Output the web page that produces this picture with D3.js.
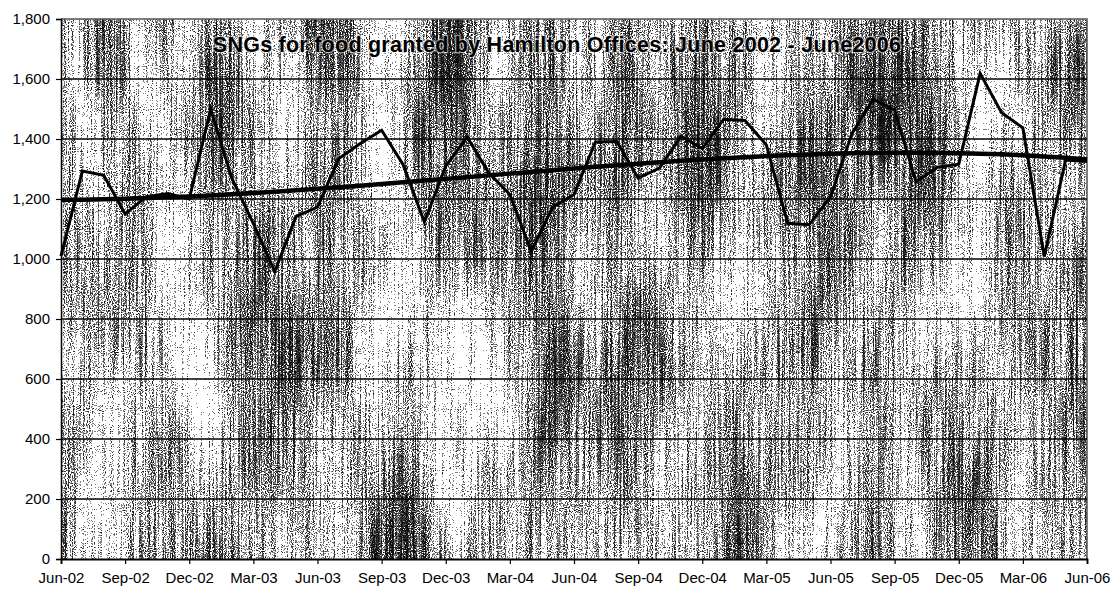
<!DOCTYPE html>
<html>
<head>
<meta charset="utf-8">
<script src="https://cdn.jsdelivr.net/npm/d3@7"></script>
<style>
  html, body { margin: 0; padding: 0; background: #fff; }
  svg { display: block; }
  text { font-family: "Liberation Sans", Arial, sans-serif; fill: #000; }
</style>
</head>
<body>
<svg id="chart" width="1120" height="590"></svg>
<script>
// Monthly categories, June 2002 to June 2006
const months = [
  "Jun-02","Jul-02","Aug-02","Sep-02","Oct-02","Nov-02","Dec-02","Jan-03","Feb-03",
  "Mar-03","Apr-03","May-03","Jun-03","Jul-03","Aug-03","Sep-03","Oct-03","Nov-03",
  "Dec-03","Jan-04","Feb-04","Mar-04","Apr-04","May-04","Jun-04","Jul-04","Aug-04",
  "Sep-04","Oct-04","Nov-04","Dec-04","Jan-05","Feb-05","Mar-05","Apr-05","May-05",
  "Jun-05","Jul-05","Aug-05","Sep-05","Oct-05","Nov-05","Dec-05","Jan-06","Feb-06",
  "Mar-06","Apr-06","May-06","Jun-06"
];

// SNGs for food granted each month
const grants = [
  1010, 1293, 1279, 1150, 1208, 1218, 1200, 1500, 1268,
  1118,  958, 1142, 1173, 1335, 1385, 1429, 1315, 1123,
  1310, 1407, 1288, 1215, 1025, 1173, 1215, 1390, 1392,
  1270, 1303, 1409, 1368, 1466, 1462, 1380, 1119, 1114,
  1207, 1418, 1533, 1496, 1257, 1306, 1316, 1619, 1488,
  1437, 1008, 1330, 1325
];

// Labelled months on the category axis (every third month)
const xTickLabels = ["Jun-02","Sep-02","Dec-02","Mar-03","Jun-03","Sep-03","Dec-03",
  "Mar-04","Jun-04","Sep-04","Dec-04","Mar-05","Jun-05","Sep-05","Dec-05","Mar-06","Jun-06"];
const yTickValues = [0, 200, 400, 600, 800, 1000, 1200, 1400, 1600, 1800];

const titleText = "SNGs for food granted by Hamilton Offices: June 2002 - June2006";

// Least-squares polynomial trend (cubic) over the month index
function polyFit(ys, degree) {
  const n = degree + 1;
  const A = Array.from({length: n}, () => new Array(n + 1).fill(0));
  ys.forEach((v, t) => {
    for (let r = 0; r < n; r++) {
      for (let c = 0; c < n; c++) A[r][c] += Math.pow(t, r + c);
      A[r][n] += v * Math.pow(t, r);
    }
  });
  for (let i = 0; i < n; i++) {
    let p = i;
    for (let r = i + 1; r < n; r++) if (Math.abs(A[r][i]) > Math.abs(A[p][i])) p = r;
    [A[i], A[p]] = [A[p], A[i]];
    for (let r = 0; r < n; r++) {
      if (r === i) continue;
      const k = A[r][i] / A[i][i];
      for (let c = i; c <= n; c++) A[r][c] -= k * A[i][c];
    }
  }
  const coef = A.map((row, i) => row[n] / row[i]);
  return t => coef.reduce((s, a, k) => s + a * Math.pow(t, k), 0);
}
const trend = polyFit(grants, 3);

const svg = d3.select("#chart");
const plotL = 61, plotR = 1087, plotT = 19, plotB = 559;

const x = d3.scalePoint().domain(months).range([plotL, plotR]);
const y = d3.scaleLinear().domain([0, 1800]).range([plotB, plotT]);

// Speckled, vertically streaked fill of the plot area
const defs = svg.append("defs");
const f = defs.append("filter").attr("id", "grain")
  .attr("filterUnits", "userSpaceOnUse")
  .attr("x", plotL).attr("y", plotT).attr("width", plotR - plotL).attr("height", plotB - plotT)
  .attr("color-interpolation-filters", "sRGB");
const toGrey = "1 0 0 0 0  1 0 0 0 0  1 0 0 0 0  0 0 0 0 1";
function noise(freq, oct, seed, name) {
  f.append("feTurbulence").attr("type", "fractalNoise").attr("baseFrequency", freq)
    .attr("numOctaves", oct).attr("seed", seed).attr("result", name + "Raw");
  f.append("feColorMatrix").attr("in", name + "Raw").attr("type", "matrix")
    .attr("values", toGrey).attr("result", name);
}
noise("0.95", 1, 3, "fine");
noise("0.55 0.01", 2, 9, "streak");
noise("0.014 0.004", 2, 21, "blot");
f.append("feComposite").attr("in", "fine").attr("in2", "streak").attr("operator", "arithmetic")
  .attr("k2", 0.6).attr("k3", 0.4).attr("result", "fs");
f.append("feComposite").attr("in", "fs").attr("in2", "blot").attr("operator", "arithmetic")
  .attr("k2", 0.8).attr("k3", 0.3).attr("k4", -0.05).attr("result", "mix");
f.append("feColorMatrix").attr("in", "mix").attr("type", "matrix")
  .attr("values", "0 0 0 0 0  0 0 0 0 0  0 0 0 0 0  1 0 0 0 0").attr("result", "alpha");
const ct = f.append("feComponentTransfer").attr("in", "alpha").attr("result", "boost");
ct.append("feFuncA").attr("type", "linear").attr("slope", 4).attr("intercept", -1.62);
const ct2 = f.append("feComponentTransfer").attr("in", "boost");
ct2.append("feFuncA").attr("type", "discrete").attr("tableValues", "0 0 0.5 0.8 0.95");

svg.append("rect")
  .attr("x", plotL).attr("y", plotT).attr("width", plotR - plotL).attr("height", plotB - plotT)
  .attr("fill", "#fff");
svg.append("rect")
  .attr("x", plotL).attr("y", plotT).attr("width", plotR - plotL).attr("height", plotB - plotT)
  .attr("fill", "#000").attr("filter", "url(#grain)");

// Plot border (top and right)
svg.append("path")
  .attr("d", `M${plotL},${plotT}H${plotR}V${plotB}`)
  .attr("fill", "none").attr("stroke", "#555").attr("stroke-width", 1.5);

// Horizontal gridlines
svg.append("g").selectAll("line")
  .data(yTickValues.filter(v => v > 0 && v < 1800))
  .join("line")
  .attr("x1", plotL).attr("x2", plotR)
  .attr("y1", d => y(d)).attr("y2", d => y(d))
  .attr("stroke", "#000").attr("stroke-width", 1.6);

// Value axis
const yAxis = svg.append("g").attr("transform", `translate(${plotL},0)`)
  .call(d3.axisLeft(y).tickValues(yTickValues).tickFormat(d3.format(",")).tickSize(5).tickPadding(6));
yAxis.select(".domain").attr("stroke", "#000").attr("stroke-width", 1.5);
yAxis.selectAll(".tick line").attr("stroke", "#000").attr("stroke-width", 1.2);
yAxis.selectAll("text").style("font-size", "15px").style("font-family", "'Liberation Sans', Arial, sans-serif").attr("fill", "#000");

// Category axis
const xAxis = svg.append("g").attr("transform", `translate(0,${plotB})`)
  .call(d3.axisBottom(x).tickValues(xTickLabels).tickSize(5).tickPadding(8));
xAxis.select(".domain").attr("stroke", "#000").attr("stroke-width", 1.8);
xAxis.selectAll(".tick line").attr("stroke", "#000").attr("stroke-width", 1.2);
xAxis.selectAll("text").style("font-size", "15px").style("font-family", "'Liberation Sans', Arial, sans-serif").attr("fill", "#000");

// Monthly series
svg.append("path")
  .datum(grants)
  .attr("fill", "none").attr("stroke", "#000").attr("stroke-width", 3)
  .attr("stroke-linejoin", "miter")
  .attr("d", d3.line().x((d, i) => x(months[i])).y(d => y(d)));

// Polynomial trend line
svg.append("path")
  .datum(months)
  .attr("fill", "none").attr("stroke", "#000").attr("stroke-width", 4.5)
  .attr("d", d3.line().x(d => x(d)).y((d, i) => y(trend(i))).curve(d3.curveMonotoneX));

// Title inside the plot area, with a light halo so it stays legible on the grain
svg.append("text")
  .attr("x", 557).attr("y", 52)
  .attr("text-anchor", "middle")
  .style("font-size", "21.5px").style("font-weight", "bold")
  .style("letter-spacing", "0.25px")
  .style("paint-order", "stroke")
  .attr("stroke", "rgba(255,255,255,0.55)").attr("stroke-width", 2.5)
  .text(titleText);
</script>
</body>
</html>
